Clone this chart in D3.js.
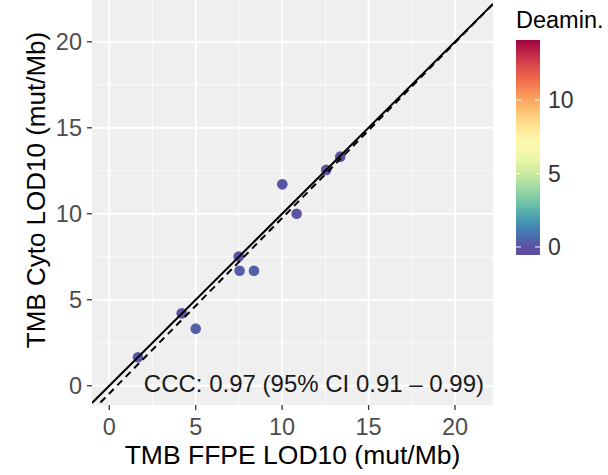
<!DOCTYPE html>
<html>
<head>
<meta charset="utf-8">
<script src="https://cdn.jsdelivr.net/npm/d3@7"></script>
<style>
  html, body { margin: 0; padding: 0; background: #fff; }
  svg { display: block; font-family: "Liberation Sans", Arial, Helvetica, sans-serif; }
</style>
</head>
<body>
<svg id="chart" width="608" height="475"></svg>
<script>
// TMB measured on FFPE vs cytology samples (mut/Mb), coloured by deamination score
const tmbFFPE = [1.66, 4.19, 5.0, 7.49, 7.54, 8.37, 10.01, 10.84, 12.55, 13.36];
const tmbCyto = [1.66, 4.21, 3.32, 7.51, 6.69, 6.69, 11.71, 10.0, 12.55, 13.32];
const deamin  = [0.2, 0.1, 0.4, 0.1, 0.3, 0.4, 0.1, 0.1, 0.1, 0.1];

const axisTicks = [0, 5, 10, 15, 20];
const minorTicks = [2.5, 7.5, 12.5, 17.5];
const legendTicks = [0, 5, 10];
const deaminRange = [-0.55, 14.1];

// concordance fit line (slope, intercept)
const fitLine = [1.02, -0.45];
const annotation = "CCC: 0.97 (95% CI 0.91 \u2013 0.99)";

const svg = d3.select("#chart");

const x = d3.scaleLinear().domain([-1.0, 22.2]).range([92, 493]);
const y = d3.scaleLinear().domain([-1.12, 22.43]).range([405, 0]);
const color = d3.scaleSequential(t => d3.interpolateSpectral(1 - t))
  .domain([0, deaminRange[1]]).clamp(true);

const [x0, x1] = x.range();
const [yb, yt] = y.range();

// panel
svg.append("rect")
  .attr("x", x0).attr("y", yt)
  .attr("width", x1 - x0).attr("height", yb - yt)
  .attr("fill", "#EFEFEF");

svg.append("clipPath").attr("id", "panel")
  .append("rect").attr("x", x0).attr("y", yt)
  .attr("width", x1 - x0).attr("height", yb - yt);

const grid = svg.append("g").attr("clip-path", "url(#panel)");
grid.selectAll(".vminor").data(minorTicks).join("line")
  .attr("x1", d => x(d)).attr("x2", d => x(d)).attr("y1", yt).attr("y2", yb)
  .attr("stroke", "#fafafa").attr("stroke-width", 1);
grid.selectAll(".hminor").data(minorTicks).join("line")
  .attr("y1", d => y(d)).attr("y2", d => y(d)).attr("x1", x0).attr("x2", x1)
  .attr("stroke", "#fafafa").attr("stroke-width", 1);
grid.selectAll(".vmajor").data(axisTicks).join("line")
  .attr("x1", d => x(d)).attr("x2", d => x(d)).attr("y1", yt).attr("y2", yb)
  .attr("stroke", "#fff").attr("stroke-width", 2);
grid.selectAll(".hmajor").data(axisTicks).join("line")
  .attr("y1", d => y(d)).attr("y2", d => y(d)).attr("x1", x0).attr("x2", x1)
  .attr("stroke", "#fff").attr("stroke-width", 2);

// points
const pts = tmbFFPE.map((v, i) => ({ fx: v, cy: tmbCyto[i], d: deamin[i] }));
grid.selectAll("circle").data(pts).join("circle")
  .attr("cx", d => x(d.fx)).attr("cy", d => y(d.cy)).attr("r", 5.3)
  .attr("fill", d => color(d.d));

// identity line and fitted line
const xs = x.domain();
grid.append("line")
  .attr("x1", x(xs[0])).attr("y1", y(xs[0]))
  .attr("x2", x(xs[1])).attr("y2", y(xs[1]))
  .attr("stroke", "#000").attr("stroke-width", 2);
grid.append("line")
  .attr("x1", x(xs[0])).attr("y1", y(fitLine[0] * xs[0] + fitLine[1]))
  .attr("x2", x(xs[1])).attr("y2", y(fitLine[0] * xs[1] + fitLine[1]))
  .attr("stroke", "#000").attr("stroke-width", 2)
  .attr("stroke-dasharray", "7,5");

// annotation
svg.append("text")
  .attr("x", 484).attr("y", 392)
  .attr("text-anchor", "end")
  .attr("font-size", 24).attr("fill", "#1a1a1a")
  .text(annotation);

// x axis
const xAxis = svg.append("g");
xAxis.selectAll("line").data(axisTicks).join("line")
  .attr("x1", d => x(d)).attr("x2", d => x(d)).attr("y1", yb).attr("y2", yb + 5)
  .attr("stroke", "#333").attr("stroke-width", 1.3);
xAxis.selectAll("text").data(axisTicks).join("text")
  .attr("x", d => x(d)).attr("y", 435)
  .attr("text-anchor", "middle").attr("font-size", 23.5).attr("fill", "#4D4D4D")
  .text(d => d);

// y axis
const yAxis = svg.append("g");
yAxis.selectAll("line").data(axisTicks).join("line")
  .attr("y1", d => y(d)).attr("y2", d => y(d)).attr("x1", x0 - 5).attr("x2", x0)
  .attr("stroke", "#333").attr("stroke-width", 1.3);
yAxis.selectAll("text").data(axisTicks).join("text")
  .attr("x", x0 - 10).attr("y", d => y(d))
  .attr("dy", "0.36em")
  .attr("text-anchor", "end").attr("font-size", 23.5).attr("fill", "#4D4D4D")
  .text(d => d);

// axis titles
svg.append("text")
  .attr("x", (x0 + x1) / 2).attr("y", 464)
  .attr("text-anchor", "middle").attr("font-size", 26.5).attr("fill", "#000")
  .text("TMB FFPE LOD10 (mut/Mb)");
svg.append("text")
  .attr("transform", "translate(45,190) rotate(-90)")
  .attr("text-anchor", "middle").attr("font-size", 26).attr("fill", "#000")
  .text("TMB Cyto LOD10 (mut/Mb)");

// colour bar legend
const lg = svg.append("g");
const ly = d3.scaleLinear().domain(deaminRange).range([255, 40]);
const barX = 516, barW = 24;
const grad = svg.append("defs").append("linearGradient")
  .attr("id", "deaminGrad").attr("x1", 0).attr("x2", 0).attr("y1", 1).attr("y2", 0);
grad.selectAll("stop").data(d3.range(0, 1.0001, 0.04)).join("stop")
  .attr("offset", t => t)
  .attr("stop-color", t => color(deaminRange[0] + t * (deaminRange[1] - deaminRange[0])));

lg.append("text")
  .attr("x", barX).attr("y", 28)
  .attr("font-size", 23.5).attr("fill", "#000")
  .text("Deamin.");
lg.append("rect")
  .attr("x", barX).attr("y", ly(deaminRange[1]))
  .attr("width", barW).attr("height", ly(deaminRange[0]) - ly(deaminRange[1]))
  .attr("fill", "url(#deaminGrad)");
lg.selectAll(".tl").data(legendTicks).join("line")
  .attr("x1", barX).attr("x2", barX + 5)
  .attr("y1", d => ly(d)).attr("y2", d => ly(d))
  .attr("stroke", "#fff").attr("stroke-width", 1);
lg.selectAll(".tr").data(legendTicks).join("line")
  .attr("x1", barX + barW - 5).attr("x2", barX + barW)
  .attr("y1", d => ly(d)).attr("y2", d => ly(d))
  .attr("stroke", "#fff").attr("stroke-width", 1);
lg.selectAll("text.lab").data(legendTicks).join("text")
  .attr("class", "lab")
  .attr("x", barX + barW + 8).attr("y", d => ly(d))
  .attr("dy", "0.36em")
  .attr("font-size", 23).attr("fill", "#333")
  .text(d => d);
</script>
</body>
</html>
